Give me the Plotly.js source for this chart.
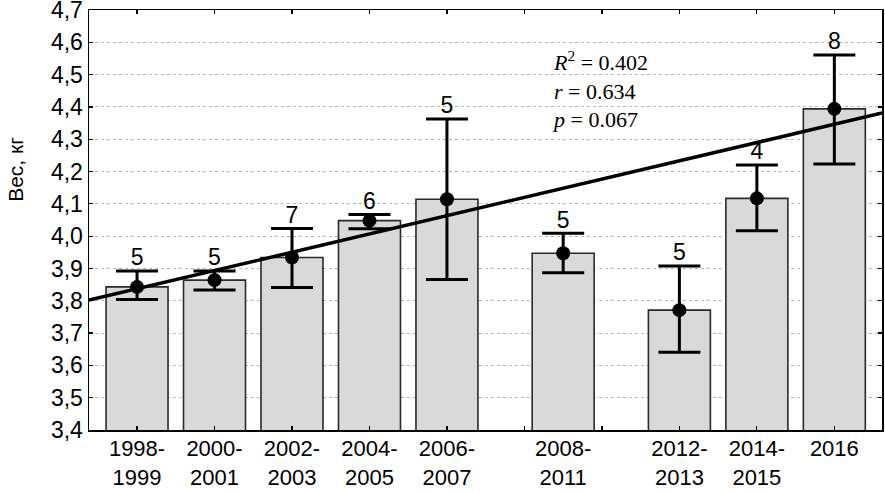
<!DOCTYPE html>
<html>
<head>
<meta charset="utf-8">
<script src="https://cdn.plot.ly/plotly-3.0.1.min.js"></script>
<style>html,body{margin:0;padding:0;background:#fff;}#chart{width:885px;height:492px;}</style>
</head>
<body>
<div id="chart"></div>
<script>
// Period labels and their mid-year positions
const periods = ['1998-<br>1999','2000-<br>2001','2002-<br>2003','2004-<br>2005','2006-<br>2007','2008-<br>2011','2012-<br>2013','2014-<br>2015','2016'];
const periodX = [1998.5, 2000.5, 2002.5, 2004.5, 2006.5, 2009.5, 2012.5, 2014.5, 2016.5];
// Mean weight, kg
const meanWeight = [3.843, 3.864, 3.934, 4.048, 4.114, 3.947, 3.771, 4.117, 4.394];
// Upper / lower limits of whiskers
const upperLimit = [3.892, 3.892, 4.024, 4.067, 4.363, 4.009, 3.908, 4.220, 4.561];
const lowerLimit = [3.804, 3.833, 3.841, 4.023, 3.866, 3.887, 3.641, 4.017, 4.223];
// Sample sizes
const sampleN = ['5','5','7','6','5','5','5','4','8'];
// Regression line (at plot edges)
const fitX = [1997.26, 2017.73];
const fitY = [3.802, 4.381];
const yTicks = [3.4,3.5,3.6,3.7,3.8,3.9,4.0,4.1,4.2,4.3,4.4,4.5,4.6,4.7];
// Statistics text
const statLines = ['<i>R</i><sup>2</sup> = 0.402', '<i>r</i> = 0.634', '<i>p</i> = 0.067'];

const errUp = upperLimit.map((u,i)=>u-meanWeight[i]);
const errDown = lowerLimit.map((l,i)=>meanWeight[i]-l);
const xr = [1997.26, 2017.73];

const data = [
  {type:'bar', x:periodX, y:meanWeight, width:1.6,
   marker:{color:'#d9d9d9', line:{color:'#2a2a2a', width:1.6}}, hoverinfo:'skip'},
  {type:'scatter', mode:'lines', x:fitX, y:fitY, xaxis:'x2',
   line:{color:'#000', width:3.5}, hoverinfo:'skip'},
  {type:'scatter', mode:'markers', x:periodX, y:meanWeight,
   marker:{color:'#000', size:14},
   error_y:{type:'data', symmetric:false, array:errUp, arrayminus:errDown,
            color:'#000', thickness:3, width:21}},
  {type:'scatter', mode:'text', x:periodX, y:upperLimit, text:sampleN,
   textposition:'top center', textfont:{family:'Liberation Sans, Arial', size:23, color:'#000'},
   hoverinfo:'skip'}
];

const annotations = [
  {xref:'paper', yref:'paper', x:0.581, y:0.81, xanchor:'left', yanchor:'middle',
   align:'left', showarrow:false, text:statLines.join('<br>'),
   font:{family:'Liberation Serif, Times New Roman', size:22, color:'#000'}},
  {xref:'paper', yref:'paper', x:-0.093, y:0.62, xanchor:'center', yanchor:'middle',
   textangle:-90, showarrow:false, text:'Вес, кг',
   font:{family:'Liberation Sans, Arial', size:21, color:'#000'}}
];

const layout = {
  width:885, height:492,
  margin:{l:89, r:3, t:10, b:62},
  paper_bgcolor:'#fff', plot_bgcolor:'#fff',
  showlegend:false,
  separators:', ',
  font:{family:'Liberation Sans, Arial', color:'#000'},
  xaxis:{range:xr, tickmode:'array', tickvals:periodX, ticktext:periods,
         ticks:'', showgrid:false, zeroline:false, automargin:false,
         ticklabelstandoff:-2, ticklabeloverflow:'allow',
         showline:true, linecolor:'#000', linewidth:1.5, mirror:true,
         tickfont:{size:22, color:'#000'}},
  xaxis2:{range:xr, overlaying:'x', anchor:'y', side:'bottom',
          tickmode:'linear', tick0:1998.5, dtick:2,
          ticks:'inside', ticklen:4, tickwidth:1.2, tickcolor:'#000',
          showticklabels:false, showgrid:false, zeroline:false,
          showline:true, linecolor:'#000', linewidth:1.5, mirror:'ticks'},
  yaxis:{range:[3.4,4.7], tickmode:'array', tickvals:yTicks, tickformat:'.1f',
         ticks:'inside', ticklen:4, tickwidth:1.2, tickcolor:'#000', automargin:false,
         ticklabeloverflow:'allow',
         showgrid:true, gridcolor:'#b8b8b8', griddash:'dot', gridwidth:1,
         zeroline:false, showline:true, linecolor:'#000', linewidth:1.5, mirror:'ticks',
         tickfont:{size:23, color:'#000'}},
  annotations:annotations
};

Plotly.newPlot('chart', data, layout, {staticPlot:true, displayModeBar:false});
</script>
</body>
</html>
